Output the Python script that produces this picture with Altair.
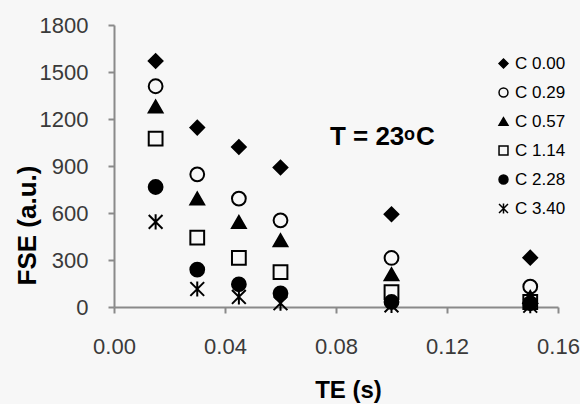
import altair as alt
import pandas as pd

# ---- data ----
te = [0.015, 0.03, 0.045, 0.06, 0.10, 0.15]
series_names = ["C 0.00", "C 0.29", "C 0.57", "C 1.14", "C 2.28", "C 3.40"]
c000 = [1570, 1145, 1021, 890, 592, 315]
c029 = [1409, 847, 692, 553, 313, 130]
c057 = [1280, 692, 543, 426, 209, 64]
c114 = [1075, 443, 313, 223, 95, 32]
c228 = [766, 239, 145, 87, 32, 24]
c340 = [543, 115, 64, 24, 10, 8]
x_ticks = [0, 0.04, 0.08, 0.12, 0.16]
y_ticks = [0, 300, 600, 900, 1200, 1500, 1800]

series_values = [c000, c029, c057, c114, c228, c340]
rows = []
for name, vals in zip(series_names, series_values):
    for t, v in zip(te, vals):
        rows.append({"TE": t, "FSE": v, "series": name})
df = pd.DataFrame(rows)

BG = "#f7f7f7"
FONT = "Liberation Sans"
AXIS_GRAY = "#8a8a8a"

shapes = ["diamond", "circle", "triangle-up", "square", "circle",
          "M-1,-1L1,1M-1,1L1,-1M0,-1.1L0,1.1"]
fills = ["black", BG, "black", BG, "black", BG]
strokes = ["black"] * 6

legend = alt.Legend(
    title=None, orient="none", legendX=381, legendY=30,
    padding=0, labelFont=FONT, labelFontSize=17, labelColor="black",
    symbolSize=80, symbolStrokeWidth=1.5,
    labelOffset=3, rowPadding=11,
)

x_enc = alt.X("TE:Q", scale=alt.Scale(domain=[0, 0.16], nice=False),
              axis=alt.Axis(values=x_ticks, format=".2f", title="TE (s)",
                            labelFlush=False, labelPadding=23,
                            titleX=234, titleY=90,
                            titleAlign="center", titleBaseline="alphabetic",
                            titleFontSize=24))
y_enc = alt.Y("FSE:Q", scale=alt.Scale(domain=[0, 1800], nice=False),
              axis=alt.Axis(values=y_ticks, format="d", title="FSE (a.u.)",
                            labelFlush=False, labelPadding=20,
                            titleX=-79, titleY=200,
                            titleAngle=-90, titleAlign="center",
                            titleBaseline="alphabetic", titleFontSize=26))

points = alt.Chart(df).mark_point(
    filled=True, strokeWidth=2, opacity=1, size=190
).encode(
    x=x_enc,
    y=y_enc,
    shape=alt.Shape("series:N", scale=alt.Scale(domain=series_names, range=shapes), legend=legend),
    fill=alt.Fill("series:N", scale=alt.Scale(domain=series_names, range=fills), legend=legend),
    stroke=alt.Stroke("series:N", scale=alt.Scale(domain=series_names, range=strokes), legend=legend),
)

ann = pd.DataFrame({"TE": [0.0778], "FSE": [1032]})
t_main = alt.Chart(ann).mark_text(
    text="T = 23", align="left", baseline="alphabetic", font=FONT,
    fontSize=26, fontWeight="bold", color="black"
).encode(x="TE:Q", y="FSE:Q")
t_sup = alt.Chart(ann).mark_text(
    text="o", align="left", baseline="alphabetic", font=FONT,
    fontSize=18, fontWeight="bold", color="black", dx=74, dy=-5
).encode(x="TE:Q", y="FSE:Q")
t_c = alt.Chart(ann).mark_text(
    text="C", align="left", baseline="alphabetic", font=FONT,
    fontSize=26, fontWeight="bold", color="black", dx=86
).encode(x="TE:Q", y="FSE:Q")

chart = alt.layer(points, t_main, t_sup, t_c).properties(
    width=444, height=282,
    autosize=alt.AutoSizeParams(type="none"),
    padding={"left": 114, "top": 25, "right": 22, "bottom": 97},
    background=BG,
).configure_view(stroke=None).configure_axis(
    grid=False, domainColor=AXIS_GRAY, domainWidth=2, tickColor=AXIS_GRAY,
    tickWidth=2, tickSize=6, labelFont=FONT, labelFontSize=22,
    labelColor="#3a3a3a", titleFont=FONT, titleFontWeight="bold",
    titleColor="black",
)

chart.save("out.html", embed_options={"renderer": "svg", "actions": False})
